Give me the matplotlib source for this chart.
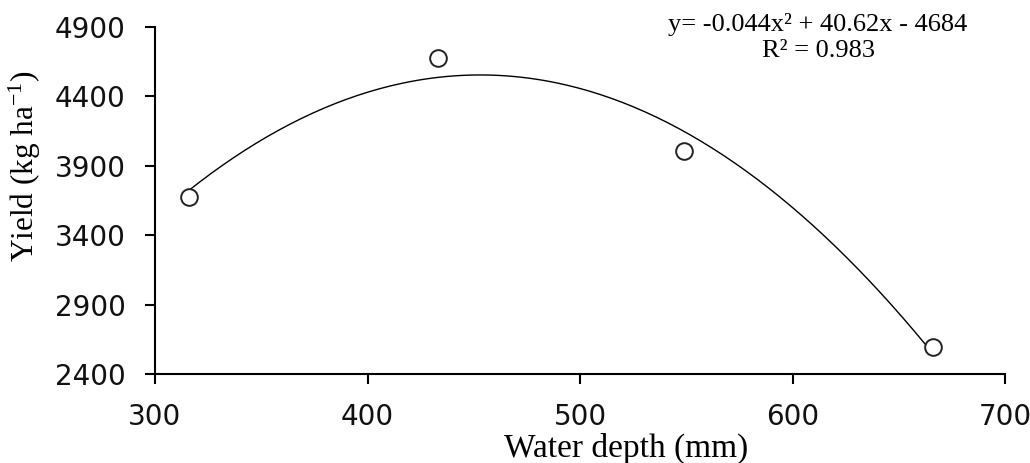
import numpy as np
import matplotlib
matplotlib.use("Agg")
import matplotlib.pyplot as plt

plt.rcParams['mathtext.fontset'] = 'custom'
plt.rcParams['mathtext.rm'] = 'Liberation Serif'
plt.rcParams['mathtext.it'] = 'Liberation Serif:italic'

# data
water_depth = [316, 433, 549, 666]
grain_yield = [3677, 4677, 4007, 2595]

x_ticks = [300, 400, 500, 600, 700]
y_ticks = [2400, 2900, 3400, 3900, 4400, 4900]

eq_text = "y= -0.044x\u00b2 + 40.62x - 4684\nR\u00b2 = 0.983"

# quadratic trend line fitted to the points (like the spreadsheet trendline)
coef = np.polyfit(water_depth, grain_yield, 2)
xs = np.linspace(min(water_depth), max(water_depth), 200)
ys = np.polyval(coef, xs)

fig = plt.figure(figsize=(10.30, 4.63), dpi=100)
ax = fig.add_axes([155 / 1030, 1 - 374 / 463, 850 / 1030, 347 / 463])

ax.plot(xs, ys, color='black', linewidth=1.0, zorder=2)
ax.plot(water_depth, grain_yield, linestyle='none', marker='o', markersize=12,
        markerfacecolor='white', markeredgecolor='#222222', markeredgewidth=1.4,
        zorder=3)

ax.set_xlim(300, 700)
ax.set_ylim(2400, 4900)
ax.set_xticks(x_ticks)
ax.set_yticks(y_ticks)

for side in ['top', 'right']:
    ax.spines[side].set_visible(False)
for side in ['left', 'bottom']:
    ax.spines[side].set_linewidth(1.5)

ax.tick_params(axis='both', direction='out', length=7, width=1.5,
               labelsize=20, colors='black')
ax.tick_params(axis='x', pad=14)
ax.tick_params(axis='y', pad=14)
for lab in ax.get_xticklabels() + ax.get_yticklabels():
    lab.set_family('DejaVu Sans')
    lab.set_color('#111111')

ax.set_xlabel('Water depth (mm)', family='Liberation Serif', fontsize=24)
ax.set_ylabel('Yield (kg ha$^{\\mathregular{-1}}$)', family='Liberation Serif',
              fontsize=22.5)
ax.xaxis.set_label_coords(0.554, -0.17)
ax.yaxis.set_label_coords(-0.132, 0.6)

ax.text(0.78, 1.04, eq_text, transform=ax.transAxes, ha='center', va='top',
        family='Liberation Serif', fontsize=19, linespacing=1.25)

fig.savefig('out.png', dpi=100, facecolor='white')
